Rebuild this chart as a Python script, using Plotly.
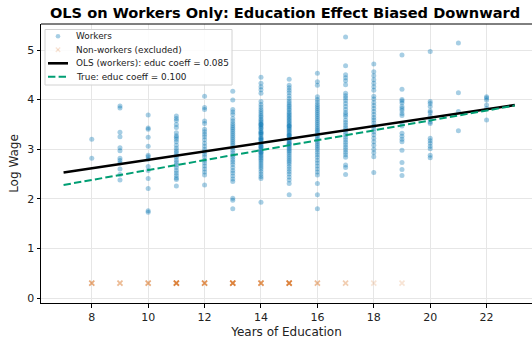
import plotly.graph_objects as go

# ---- data ----
wages_8 = [3.20, 2.82]
wages_9 = [3.87, 3.83, 3.34, 3.25, 3.03, 2.97, 2.82, 2.77, 2.72, 2.60, 2.49, 2.38]
wages_10 = [3.69, 3.43, 3.40, 3.24, 3.06, 2.88, 2.85, 2.80, 2.65, 2.57, 2.41, 2.21, 1.76, 1.73]
wages_11 = [3.67, 3.62, 3.58, 3.50, 3.44, 3.33, 3.27, 3.24, 3.20, 3.15, 3.08, 3.02, 2.97,
            2.93, 2.88, 2.84, 2.78, 2.73, 2.68, 2.63, 2.57, 2.52, 2.47, 2.42, 2.39, 2.26]
wages_12 = [4.07, 3.84, 3.80, 3.57, 3.52, 3.40, 3.35, 3.30, 3.25, 3.19, 3.12, 3.06, 3.00,
            2.95, 2.90, 2.85, 2.78, 2.72, 2.66, 2.60, 2.54, 2.48, 2.28]
wages_13 = [4.17, 3.99, 3.80, 3.75, 3.70, 3.62, 3.57, 3.52, 3.48, 3.44, 3.40, 3.36, 3.32,
            3.28, 3.24, 3.20, 3.16, 3.12, 3.08, 3.03, 2.98, 2.93, 2.88, 2.84, 2.79, 2.74,
            2.69, 2.63, 2.57, 2.52, 2.46, 2.40, 2.35, 2.01, 1.97, 1.80]
wages_14 = [4.45, 4.33, 4.26, 4.20, 4.13, 3.96, 3.90, 3.85, 3.80, 3.76, 3.72, 3.68, 3.65,
            3.61, 3.58, 3.55, 3.52, 3.49, 3.46, 3.43, 3.41, 3.37, 3.34, 3.31, 3.29, 3.25,
            3.22, 3.19, 3.17, 3.13, 3.10, 3.07, 3.04, 3.01, 2.98, 2.95, 2.92, 2.89, 2.86,
            2.83, 2.80, 2.76, 2.72, 2.68, 2.64, 2.60, 2.55, 2.50, 2.45, 2.41, 1.93,
            3.50, 3.33, 3.21, 3.05, 2.94]
wages_15 = [4.41, 4.29, 4.24, 4.19, 4.14, 4.08, 4.02, 3.97, 3.93, 3.89, 3.86, 3.82, 3.79,
            3.75, 3.72, 3.69, 3.66, 3.63, 3.60, 3.57, 3.54, 3.51, 3.48, 3.45, 3.42, 3.39,
            3.36, 3.33, 3.30, 3.27, 3.24, 3.21, 3.18, 3.15, 3.12, 3.09, 3.06, 3.03, 3.00,
            2.97, 2.94, 2.90, 2.86, 2.82, 2.78, 2.74, 2.70, 2.65, 2.60, 2.55, 2.50, 2.44,
            2.38, 2.31, 2.08, 3.47, 3.28, 3.11]
wages_16 = [4.53, 4.36, 4.29, 4.06, 4.00, 3.95, 3.90, 3.86, 3.82, 3.78, 3.74, 3.70, 3.66,
            3.62, 3.58, 3.54, 3.50, 3.46, 3.42, 3.38, 3.35, 3.31, 3.27, 3.23, 3.19, 3.15,
            3.11, 3.07, 3.03, 2.99, 2.94, 2.89, 2.84, 2.78, 2.72, 2.66, 2.60, 2.54, 2.48,
            2.31, 2.08, 1.80]
wages_17 = [5.26, 4.68, 4.50, 4.44, 4.38, 4.30, 4.13, 4.08, 4.03, 3.98, 3.92, 3.86, 3.80,
            3.74, 3.70, 3.66, 3.59, 3.54, 3.49, 3.44, 3.39, 3.34, 3.29, 3.24, 3.19, 3.14,
            3.09, 3.04, 2.99, 2.94, 2.89, 2.84, 2.68, 2.63, 2.49]
wages_18 = [4.72, 4.56, 4.48, 4.40, 4.33, 4.26, 4.19, 4.07, 4.01, 3.94, 3.88, 3.82, 3.76,
            3.70, 3.64, 3.59, 3.53, 3.47, 3.41, 3.35, 3.29, 3.22, 3.15, 3.08, 3.00, 2.93,
            2.85, 2.53]
wages_19 = [4.90, 4.21, 4.00, 3.97, 3.93, 3.86, 3.82, 3.78, 3.72, 3.68, 3.52, 3.47, 3.32,
            3.26, 3.20, 3.15, 2.98, 2.73, 2.59, 2.47]
wages_20 = [4.97, 3.96, 3.92, 3.86, 3.77, 3.74, 3.67, 3.60, 3.55, 3.52, 3.22, 3.17, 3.12,
            3.06, 3.01, 2.88, 2.83]
wages_21 = [5.14, 4.14, 3.76, 3.37]
wages_22 = [4.06, 4.03, 3.99, 3.89, 3.82, 3.59]

educ_levels = list(range(8, 23))
worker_wages = [wages_8, wages_9, wages_10, wages_11, wages_12, wages_13, wages_14,
                wages_15, wages_16, wages_17, wages_18, wages_19, wages_20, wages_21,
                wages_22]

# non-workers (plotted at a fixed marker level); repeats = overlapping points
nonworker_educ = [8, 8, 8, 8, 9, 9, 9, 10, 10, 10, 10,
                  11, 11, 11, 11, 11, 11, 11, 11, 12, 12, 12, 12, 12, 12,
                  13, 13, 13, 13, 13, 13, 13, 13, 14, 14, 14, 14, 14, 14,
                  15, 15, 15, 15, 15, 15, 15, 15, 16, 16, 16, 17, 17, 18, 19]
nonworker_level = 0.3

line_x = [7, 23]
ols_intercept, ols_slope = 1.935, 0.085
true_intercept, true_slope = 1.58, 0.100

x_ticks = [8, 10, 12, 14, 16, 18, 20, 22]
y_ticks = [0, 1, 2, 3, 4, 5]

legend_labels = ["Workers", "Non-workers (excluded)",
                 "OLS (workers): educ coeff = 0.085", "True: educ coeff = 0.100"]

BLUE = "#0072B2"
ORANGE = "#D55E00"
GREEN = "#009E73"
FONT = "DejaVu Sans"
DASH = "7.4px,3.2px"

# ---- build ----
wx, wy = [], []
for e, ws in zip(educ_levels, worker_wages):
    for w in ws:
        wx.append(e)
        wy.append(w)

fig = go.Figure()
fig.add_trace(go.Scatter(
    x=wx, y=wy, mode="markers", name=legend_labels[0], showlegend=False,
    marker=dict(color=BLUE, size=5, opacity=0.35, line=dict(width=0)),
))
fig.add_trace(go.Scatter(
    x=nonworker_educ, y=[nonworker_level] * len(nonworker_educ), mode="markers",
    name=legend_labels[1], showlegend=False,
    marker=dict(symbol="x-thin", size=5, opacity=0.16, color=ORANGE,
                line=dict(width=1.6, color=ORANGE)),
))
fig.add_trace(go.Scatter(
    x=line_x, y=[ols_intercept + ols_slope * v for v in line_x], mode="lines",
    name=legend_labels[2], showlegend=False,
    line=dict(color="black", width=2.6),
))
fig.add_trace(go.Scatter(
    x=line_x, y=[true_intercept + true_slope * v for v in line_x], mode="lines",
    name=legend_labels[3], showlegend=False,
    line=dict(color=GREEN, width=2, dash=DASH),
))

# plot area in page pixels
PL, PR, PT, PB = 41, 532, 24, 303
W, H = 532, 339


def px_x(p):
    return (p - PL) / (PR - PL)


def px_y(p):
    return 1 - (p - PT) / (PB - PT)


shapes = []
annotations = []
# top spine
shapes.append(dict(type="line", xref="paper", yref="paper", x0=0, x1=1, y0=1, y1=1,
                   line=dict(color="black", width=1), layer="above"))
# legend box
shapes.append(dict(type="rect", xref="paper", yref="paper",
                   x0=px_x(45), x1=px_x(232), y0=px_y(85), y1=px_y(29.5),
                   fillcolor="rgba(255,255,255,0.85)", line=dict(color="#d2d2d2", width=1),
                   layer="above"))
row_y = [36.3, 49.8, 63.3, 76.8]
# workers dot
shapes.append(dict(type="circle", xref="paper", yref="paper",
                   x0=px_x(55.7), x1=px_x(60.3), y0=px_y(row_y[0] + 2.3), y1=px_y(row_y[0] - 2.3),
                   fillcolor="rgba(0,114,178,0.35)", line=dict(width=0), layer="above"))
# non-worker x
for dy in (-1, 1):
    shapes.append(dict(type="line", xref="paper", yref="paper",
                       x0=px_x(55.8), x1=px_x(60.2),
                       y0=px_y(row_y[1] - 2.2 * dy), y1=px_y(row_y[1] + 2.2 * dy),
                       line=dict(color="rgba(213,94,0,0.16)", width=1.4), layer="above"))
# OLS line sample
shapes.append(dict(type="line", xref="paper", yref="paper",
                   x0=px_x(48), x1=px_x(68), y0=px_y(row_y[2]), y1=px_y(row_y[2]),
                   line=dict(color="black", width=2.6), layer="above"))
# True line sample
shapes.append(dict(type="line", xref="paper", yref="paper",
                   x0=px_x(48), x1=px_x(68), y0=px_y(row_y[3]), y1=px_y(row_y[3]),
                   line=dict(color=GREEN, width=2, dash=DASH), layer="above"))
for lbl, ry in zip(legend_labels, row_y):
    annotations.append(dict(text=lbl, xref="paper", yref="paper", x=px_x(74), y=px_y(ry),
                            xanchor="left", yanchor="middle", showarrow=False,
                            font=dict(size=8.9, family=FONT, color="#222222")))

fig.update_layout(
    width=W, height=H,
    margin=dict(l=PL, r=W - PR, t=PT, b=H - PB, autoexpand=False),
    paper_bgcolor="white", plot_bgcolor="white",
    font=dict(family=FONT, color="#222222"),
    title=dict(text="<b>OLS on Workers Only: Education Effect Biased Downward</b>",
               x=285 / W, xref="container", xanchor="center",
               y=1 - 13 / H, yref="container", yanchor="middle",
               font=dict(size=14.6, family=FONT, color="black")),
    showlegend=False,
    shapes=shapes,
    annotations=annotations,
)
fig.update_xaxes(
    range=[6.2, 23.61], tickvals=x_ticks, ticks="outside", ticklen=3.5, tickcolor="black",
    showline=True, linecolor="black", linewidth=1, mirror=False,
    showgrid=True, gridcolor="#e6e6e6", gridwidth=1, zeroline=False,
    tickfont=dict(size=11, family=FONT, color="#222222"),
    title=dict(text="Years of Education", font=dict(size=12, family=FONT, color="#222222"),
               standoff=4),
)
fig.update_yaxes(
    range=[-0.1, 5.524], tickvals=y_ticks, ticks="outside", ticklen=3.5, tickcolor="black",
    showline=True, linecolor="black", linewidth=1, mirror=False,
    showgrid=True, gridcolor="#e6e6e6", gridwidth=1, zeroline=False,
    tickfont=dict(size=11, family=FONT, color="#222222"),
    title=dict(text="Log Wage", font=dict(size=12, family=FONT, color="#222222"),
               standoff=6),
)

fig.write_html("out.html", config={"displayModeBar": False},
               post_script="document.body.style.margin='0';document.body.style.padding='0';")
